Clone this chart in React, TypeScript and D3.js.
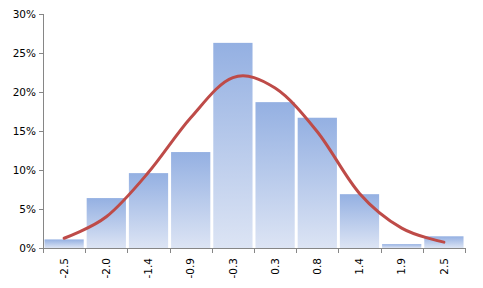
import React from "react";
import * as d3 from "d3";

const categories = ["-2.5", "-2.0", "-1.4", "-0.9", "-0.3", "0.3", "0.8", "1.4", "1.9", "2.5"];
const barValues = [1.1, 6.4, 9.6, 12.3, 26.3, 18.7, 16.7, 6.9, 0.5, 1.5];
const curveValues = [1.25, 4.0, 9.7, 16.7, 21.85, 20.5, 14.9, 7.0, 2.55, 0.75];
const yTicks = [0, 5, 10, 15, 20, 25, 30];

const W = 483;
const H = 288;
const M = { left: 43, right: 18, top: 14, bottom: 40 };

export default function App() {
  const x = d3
    .scaleBand<string>()
    .domain(categories)
    .range([M.left, W - M.right])
    .paddingInner(0.07)
    .paddingOuter(0.035);
  const y = d3.scaleLinear().domain([0, 30]).range([H - M.bottom, M.top]);
  const step = x.step();
  const x0 = M.left;
  const x1 = W - M.right;
  const y0 = y(0);

  const line = d3
    .line<number>()
    .x((_, i) => (x(categories[i]) as number) + x.bandwidth() / 2)
    .y((d) => y(d))
    .curve(d3.curveCardinal.tension(0));

  const font = "'DejaVu Sans', Verdana, sans-serif";
  const axisColor = "#868686";

  return (
    <svg
      width={W}
      height={H}
      style={{ position: "absolute", left: 0, top: 0, background: "#fff" }}
    >
      <defs>
        <linearGradient id="barGrad" x1="0" y1="0" x2="0" y2="1">
          <stop offset="0%" stopColor="#94B0E2" />
          <stop offset="100%" stopColor="#DCE4F4" />
        </linearGradient>
      </defs>
      {categories.map((c, i) => (
        <rect
          key={c}
          x={x(c) as number}
          y={y(barValues[i])}
          width={x.bandwidth()}
          height={y0 - y(barValues[i])}
          fill="url(#barGrad)"
        />
      ))}
      <path
        d={line(curveValues) || ""}
        fill="none"
        stroke="#BE4B48"
        strokeWidth={3}
        strokeLinecap="round"
      />
      {/* Y axis */}
      <line x1={x0 + 0.5} x2={x0 + 0.5} y1={M.top} y2={y0} stroke={axisColor} />
      {yTicks.map((t) => (
        <g key={t}>
          <line
            x1={x0 - 4}
            x2={x0}
            y1={Math.round(y(t)) + 0.5}
            y2={Math.round(y(t)) + 0.5}
            stroke={axisColor}
          />
          <text
            x={x0 - 7}
            y={y(t)}
            dy="0.35em"
            textAnchor="end"
            fontFamily={font}
            fontSize={10.5}
            fill="#000"
          >
            {t}%
          </text>
        </g>
      ))}
      {/* X axis */}
      <line x1={x0} x2={x1} y1={Math.round(y0) + 0.5} y2={Math.round(y0) + 0.5} stroke={axisColor} />
      {d3.range(categories.length + 1).map((i) => {
        const tx = Math.round(x0 + i * step) + 0.5;
        return (
          <line key={i} x1={tx} x2={tx} y1={y0} y2={y0 + 5} stroke={axisColor} />
        );
      })}
      {categories.map((c) => {
        const cx = (x(c) as number) + x.bandwidth() / 2;
        return (
          <text
            key={c}
            transform={`translate(${cx},${y0 + 10}) rotate(-90)`}
            textAnchor="end"
            dy="0.35em"
            fontFamily={font}
            fontSize={10.5}
            fill="#000"
          >
            {c}
          </text>
        );
      })}
    </svg>
  );
}
